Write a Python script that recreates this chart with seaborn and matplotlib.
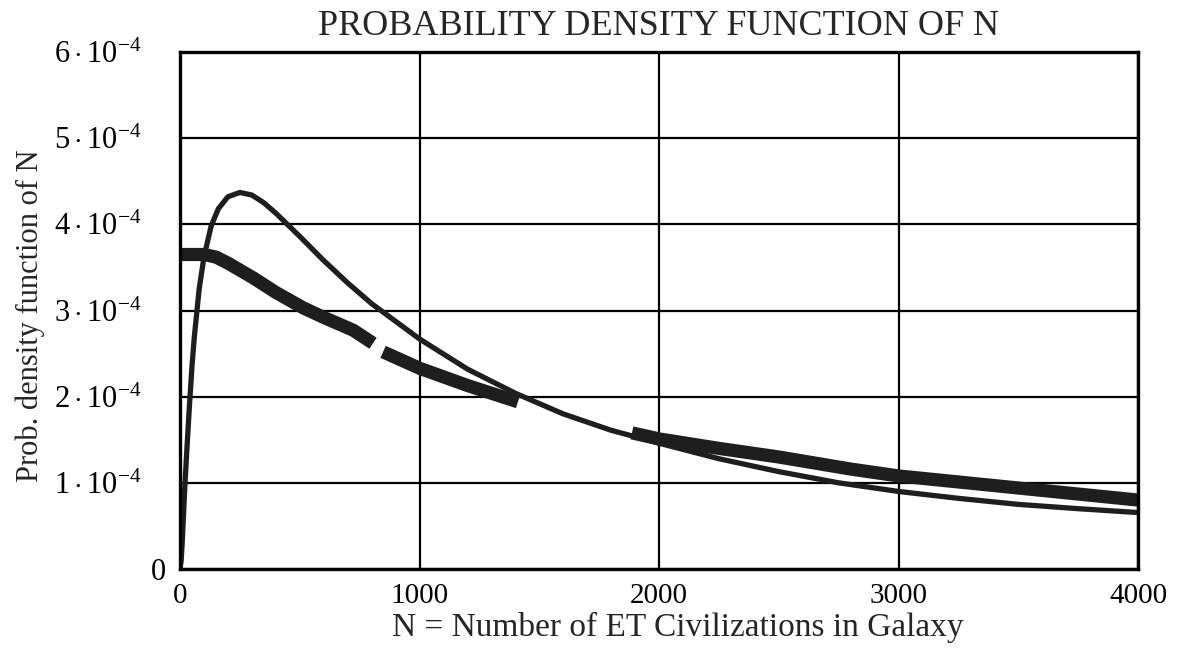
import numpy as np
import pandas as pd
import matplotlib
matplotlib.use("Agg")
import matplotlib.pyplot as plt
import matplotlib.transforms as mtransforms
import seaborn as sns

# thin curve: pdf of N (values in units of 1e-4)
thin_n = [0, 5, 10, 20, 30, 40, 50, 60, 80, 100, 130, 160, 200, 250, 300, 350,
          400, 500, 600, 700, 800, 1000, 1200, 1400, 1600, 1800, 2000, 2250,
          2500, 2750, 3000, 3250, 3500, 3750, 4000]
thin_pdf = [0, 0.10, 0.35, 0.95, 1.45, 1.92, 2.35, 2.70, 3.25, 3.62, 3.98, 4.18,
            4.32, 4.37, 4.34, 4.25, 4.13, 3.86, 3.58, 3.32, 3.08, 2.67, 2.32,
            2.04, 1.80, 1.61, 1.46, 1.28, 1.13, 1.00, 0.90, 0.82, 0.75, 0.70, 0.655]

# thick dashed curve, three visible dashes (values in units of 1e-4)
thick_seg1_n = [0, 100, 150, 200, 305, 400, 515, 600, 724, 806]
thick_seg1_pdf = [3.65, 3.65, 3.62, 3.55, 3.38, 3.21, 3.03, 2.92, 2.77, 2.62]
thick_seg2_n = [848, 1000, 1200, 1411]
thick_seg2_pdf = [2.52, 2.33, 2.13, 1.94]
thick_seg3_n = [1887, 2000, 2250, 2500, 2800, 3000, 3250, 3500, 3750, 4000]
thick_seg3_pdf = [1.58, 1.51, 1.40, 1.30, 1.16, 1.08, 1.01, 0.94, 0.87, 0.80]

y_ticks = [0, 1, 2, 3, 4, 5, 6]
x_ticks = [0, 1000, 2000, 3000, 4000]

sns.set_style("white")
plt.rcParams['font.family'] = ['Liberation Serif', 'DejaVu Serif']
plt.rcParams['mathtext.fontset'] = 'custom'
plt.rcParams['mathtext.rm'] = 'Liberation Serif'
plt.rcParams['mathtext.it'] = 'Liberation Serif:italic'

thin = pd.DataFrame({'N': thin_n, 'pdf': np.array(thin_pdf) * 1e-4})
thick = pd.concat([
    pd.DataFrame({'N': thick_seg1_n, 'pdf': np.array(thick_seg1_pdf) * 1e-4, 'seg': 1}),
    pd.DataFrame({'N': thick_seg2_n, 'pdf': np.array(thick_seg2_pdf) * 1e-4, 'seg': 2}),
    pd.DataFrame({'N': thick_seg3_n, 'pdf': np.array(thick_seg3_pdf) * 1e-4, 'seg': 3}),
])

fig = plt.figure(figsize=(11.85, 6.52), dpi=100)
ax = fig.add_axes([180/1185, 1-569/652, (1138-180)/1185, (569-52)/652])

sns.lineplot(data=thick, x='N', y='pdf', units='seg', estimator=None,
             color='#1e1e1e', lw=9.5, solid_capstyle='butt', ax=ax, zorder=3)
sns.lineplot(data=thin, x='N', y='pdf', color='#1e1e1e', lw=3.8,
             solid_capstyle='round', ax=ax, zorder=4)

ax.set_xlim(0, 4000)
ax.set_ylim(0, 6e-4)
ax.set_xticks(x_ticks)
ax.set_xticklabels([str(v) for v in x_ticks])
ax.set_yticks([v * 1e-4 for v in y_ticks])
ax.set_yticklabels(['0'] + [r'$%d\cdot10^{-4}$' % v for v in y_ticks[1:]])
ax.tick_params(length=0, colors='black')
ax.tick_params(axis='x', labelsize=21, pad=10)
ax.tick_params(axis='y', labelsize=22, pad=28)
# the "0" label sits closer to the axis than the others
zero_lab = ax.get_yticklabels()[0]
zero_lab.set_transform(zero_lab.get_transform() +
                       mtransforms.ScaledTranslation(0.25, 0, fig.dpi_scale_trans))

ax.grid(True, color='black', lw=1.6)
for s in ax.spines.values():
    s.set_color('black')
    s.set_linewidth(2.4)
    s.set_zorder(5)

ax.set_title("PROBABILITY DENSITY FUNCTION OF N", fontsize=26, pad=12)
ax.set_xlabel("N = Number of ET Civilizations in Galaxy", fontsize=24, va='top')
ax.xaxis.set_label_coords(0.52, -0.083)
ax.set_ylabel("Prob. density function of N", fontsize=22)
ax.yaxis.set_label_coords(-0.141, 0.49)

fig.savefig("out.png", dpi=100, facecolor='white')
